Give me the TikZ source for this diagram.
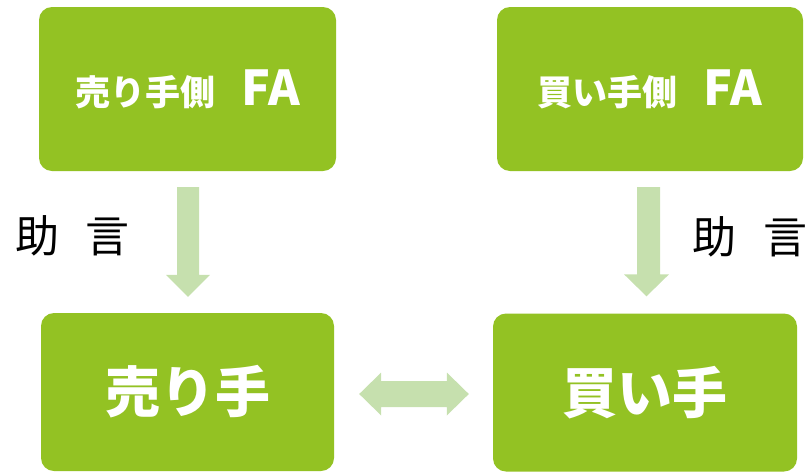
\documentclass[tikz,border=0pt]{standalone}
\usepackage{fontspec}
\newfontfamily\jp{Noto Sans CJK JP}
\usetikzlibrary{calc}
\definecolor{boxgreen}{RGB}{147,194,35}
\definecolor{arrowgreen}{RGB}{198,224,174}
\tikzset{
  box/.style={draw=none, fill=boxgreen, rounded corners=13pt, inner sep=0pt, text=white, font=\jp\bfseries, anchor=center},
  advice/.style={inner sep=0pt, text=black, font=\jp\fontsize{44pt}{44pt}\selectfont, anchor=center},
  fatarrow/.style={fill=arrowgreen, draw=none}
}
\begin{document}
\begin{tikzpicture}[x=1pt,y=-1pt]
\useasboundingbox (0,0) rectangle (810,472);
\clip (0,0) rectangle (810,472);
\node[box, minimum width=297pt, minimum height=164pt] (tl) at (187.5,89)
  {\fontsize{35pt}{35pt}\selectfont 売り手側\hspace{26pt}\fontsize{48pt}{48pt}\selectfont FA};
\node[box, minimum width=306pt, minimum height=164pt] (tr) at (650,89)
  {\fontsize{35pt}{35pt}\selectfont 買い手側\hspace{26pt}\fontsize{48pt}{48pt}\selectfont FA};
\node[box, minimum width=293pt, minimum height=158pt] (bl) at (187.5,392)
  {\fontsize{55pt}{55pt}\selectfont 売り手};
\node[box, minimum width=304pt, minimum height=158pt] (br) at (645,392.5)
  {\fontsize{55pt}{55pt}\selectfont 買い手};
\node[advice] (ladv) at (72.5,236) {助\hspace{27pt}言};
\node[advice] (radv) at (750,236.5) {助\hspace{27pt}言};
% left down arrow
\coordinate (a1s) at ($(tl.south)+(0.5,16)$);
\coordinate (a1e) at ($(bl.north)+(0.5,-16)$);
\fill[fatarrow] ($(a1s)+(-11,0)$) -- ($(a1s)+(11,0)$) -- ($(a1e)+(11,-22)$) -- ($(a1e)+(22,-22)$)
  -- (a1e) -- ($(a1e)+(-22,-22)$) -- ($(a1e)+(-11,-22)$) -- cycle;
% right down arrow
\coordinate (a2e) at ($(br.north)+(1.5,-17)$);
\coordinate (a2s) at ($(a2e|-tr.south)+(0,16)$);
\fill[fatarrow] ($(a2s)+(-9.5,0)$) -- ($(a2s)+(13.5,0)$) -- ($(a2e)+(13.5,-22)$) -- ($(a2e)+(22.5,-22)$)
  -- (a2e) -- ($(a2e)+(-22.5,-22)$) -- ($(a2e)+(-9.5,-22)$) -- cycle;
% double arrow
\coordinate (d1) at ($(bl.east)+(25,2)$);
\coordinate (d2) at ($(br.west)+(-24,1.5)$);
\fill[fatarrow] (d1) -- ($(d1)+(22,-21.5)$) -- ($(d1)+(22,-13)$) -- ($(d2)+(-22,-13)$) -- ($(d2)+(-22,-21.5)$)
  -- (d2) -- ($(d2)+(-22,21.5)$) -- ($(d2)+(-22,13)$) -- ($(d1)+(22,13)$) -- ($(d1)+(22,21.5)$) -- cycle;
\end{tikzpicture}
\end{document}
